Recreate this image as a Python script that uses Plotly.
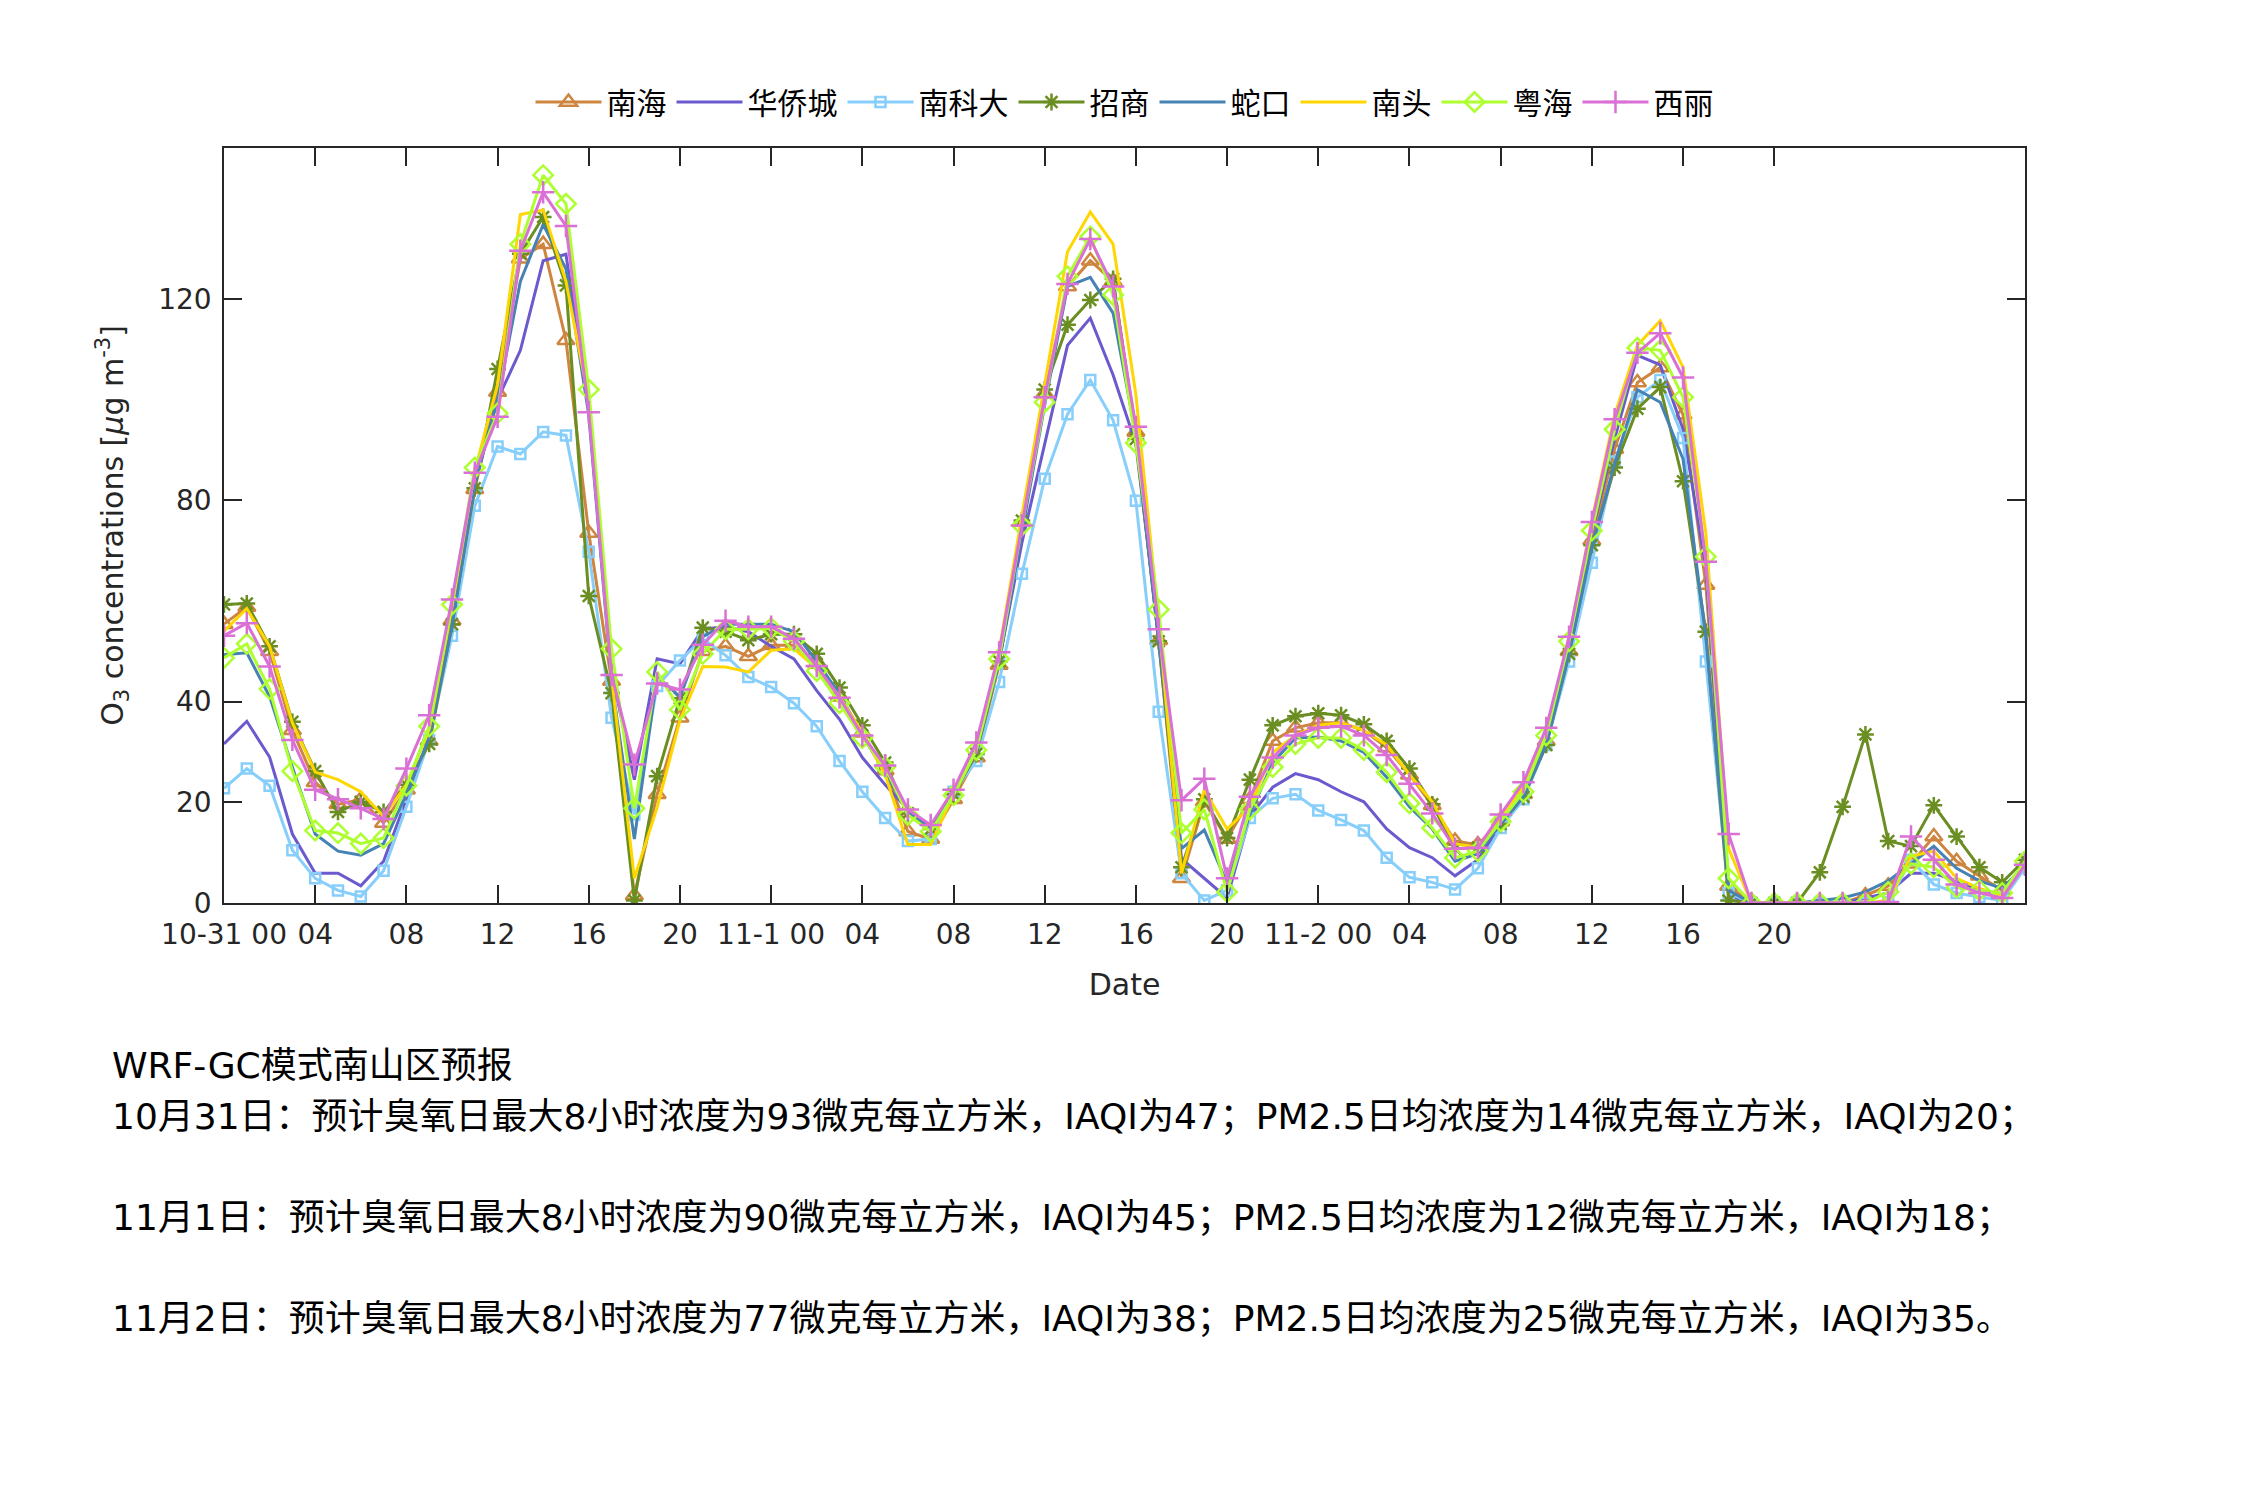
import plotly.graph_objects as go

# ---------------- data ----------------
hours = list(range(80))
x_tick_vals = list(range(0, 69, 4))
x_tick_text = ["10-31 00", "04", "08", "12", "16", "20",
               "11-1 00", "04", "08", "12", "16", "20",
               "11-2 00", "04", "08", "12", "16", "20"]
y_tick_vals = [0, 20, 40, 80, 120]

nanhai = [55.4, 58.8, 50, 34.3, 24, 19.6, 20.6, 15.9, 22.5, 32.2, 56.1, 82.2, 101.5, 128, 130.9, 111.8, 73.5, 44.1, 1.5, 21.6,
          36.8, 50, 51, 49, 51.2, 51.2, 47.5, 41, 33.8, 26.3, 14.2, 12.7, 20.6, 28.9, 47.3, 75.7, 101.2, 122.5, 127.6, 123.5,
          93.6, 52.2, 4.9, 20.1, 12.7, 20.6, 32.2, 34.8, 35.8, 35.8, 34.3, 30.9, 25.5, 19.4, 12.3, 11.6, 16.2, 21.6, 32.2, 50,
          72, 90.2, 103.4, 106.4, 97, 63.2, 3.4, 0, 0, 0, 0, 0, 1.5, 3.4, 7.8, 13.2, 8.3, 5.4, 2.5, 7.8]
huaqiaocheng = [31.6, 36.1, 29, 13.7, 5.9, 5.9, 3.4, 8.3, 20.6, 32.8, 55.4, 83.3, 100, 109.8, 127.6, 128.9, 98, 46, 24.5, 48.5,
                47.5, 54.4, 54.9, 53.9, 51, 48.5, 42.2, 36.5, 28.9, 23.5, 18.6, 15.2, 22.1, 30.4, 48, 71.6, 91.2, 110.8, 116.2, 104.9,
                91.2, 53, 8.8, 4.9, 1, 17.2, 23, 25.7, 24.5, 22.1, 20.1, 14.7, 11, 9, 5.4, 8.6, 15.5, 21.5, 32.5, 51,
                73.5, 92.2, 108.8, 106.9, 94.1, 66.7, 1.5, 0, 0, 0, 0, 0, 1, 2, 5.9, 5.9, 4.4, 2.5, 1.5, 7.8]
nankeda = [22.8, 26.7, 23.3, 10.5, 4.9, 2.5, 1.3, 6.4, 19.1, 32.4, 53.1, 78.9, 90.7, 89.2, 93.6, 92.9, 69.8, 36.8, 17.6, 43.1,
           48.2, 52.5, 49.2, 44.9, 42.9, 39.7, 35.1, 28.2, 22.1, 16.9, 12.3, 12.7, 22.1, 28.2, 43.9, 65.4, 84.3, 97.1, 103.9, 95.9,
           79.9, 38, 5.9, 0.5, 2.5, 16.9, 20.8, 21.6, 18.4, 16.5, 14.4, 9, 5.1, 4.1, 2.7, 6.9, 14.9, 20.6, 31.4, 48,
           67.6, 87.7, 100.5, 103.9, 92.4, 48, 2, 0, 0, 0, 0, 0, 0, 0.2, 8.6, 3.7, 2, 1.2, 0.5, 6.9]
zhaoshang = [59.3, 59.5, 51, 36, 26.2, 18.1, 20.1, 18.1, 23.5, 31.6, 55.4, 82.4, 106.1, 129, 136.3, 122.7, 61, 41.7, 0.5, 25.2,
             40.7, 54.7, 53.9, 52.2, 53.4, 53.4, 49.5, 42.8, 35.3, 27.9, 17.8, 14.7, 21.6, 29.6, 48, 76, 102, 114.9, 119.8, 124,
             92.2, 52, 7.1, 20.6, 12.9, 24.5, 35.3, 37.1, 37.7, 37.3, 35.5, 32.2, 26.7, 19.6, 10.8, 11, 15.7, 21.1, 31.4, 49.5,
             71.1, 86.5, 98.2, 102.5, 83.8, 53.9, 0.5, 0, 0, 0, 6.1, 19.1, 33.5, 12.3, 11.3, 19.4, 13.2, 7.1, 4.1, 8.6]
shekou = [49.3, 49.7, 41, 27, 13.7, 10.3, 9.5, 11.8, 21.6, 32.8, 54.9, 83.3, 100, 123.5, 134.8, 126, 97, 44, 12.7, 45,
          41, 52.9, 55.4, 55.4, 55.4, 53.9, 48, 41.5, 33.3, 26, 18.1, 14.7, 21.6, 30, 48, 73.5, 99, 122.5, 124.3, 117.2,
          93, 52, 10.8, 14.5, 3.9, 17.6, 27.9, 32.8, 33, 32.2, 29.9, 25, 19.1, 14.7, 8.3, 9.8, 15.7, 21.1, 31.4, 49.5,
          70.6, 87.3, 102, 99.5, 88.2, 52.9, 2.5, 0, 0, 0, 0.5, 1, 2.2, 4.4, 7.8, 11.3, 6.9, 4.4, 2.9, 7.4]
nantou = [54, 58.5, 51, 35.8, 26, 24.5, 22.1, 17.2, 23.5, 34.5, 58.8, 85.8, 103, 136.8, 137.7, 123.5, 100, 45, 4.9, 19,
          36.3, 47, 46.9, 45.9, 50.2, 50.5, 46.6, 41, 33.8, 25.5, 11.6, 11.6, 21.6, 30.4, 50, 77, 103, 129.4, 137.3, 130.9,
          101, 56, 5.9, 22.5, 14.7, 19.1, 29.9, 33.3, 35.3, 35.8, 34.3, 31.4, 25.5, 20.1, 11.8, 11, 17.2, 23, 34, 52.9,
          76, 97, 110.8, 115.7, 106.4, 73.5, 10.8, 0, 0, 0, 0, 0, 0, 0.5, 9.3, 10.3, 4.9, 2.9, 1.5, 7.8]
yuehai = [48.7, 51.5, 42.5, 26.2, 14.4, 13.9, 11.8, 12.9, 23.3, 35.1, 59.3, 86.5, 97.3, 130.9, 144.6, 138.9, 102, 50.5, 18.8, 45.9,
          38.4, 49.5, 54.4, 54.4, 54.6, 52, 46.1, 39.7, 32.8, 27, 17.5, 14.2, 21.4, 30.4, 48.5, 75, 99.5, 124.5, 132.4, 120.8,
          91.4, 58.3, 13.9, 18.6, 2.2, 18.6, 27, 31.6, 32.8, 32.8, 30.4, 26, 19.8, 14.9, 9, 10.3, 16.2, 22.1, 33.3, 52,
          74, 94.1, 110.3, 109.8, 100.5, 68.8, 4.9, 0, 0, 0, 0, 0, 0, 2.2, 7.8, 7.1, 3.1, 2.5, 2, 8.3]
xili = [53.1, 55.6, 47, 32.4, 22.5, 20.6, 18.8, 16.7, 26.7, 37.3, 60.3, 85.5, 96.6, 129.6, 141.2, 134.5, 97.5, 45.3, 27.5, 43.6,
        42.4, 51.3, 56.1, 54.9, 54.9, 52.5, 47.1, 40.8, 33.3, 27.3, 18.6, 15.5, 22.5, 31.9, 49.8, 75, 100.5, 123, 131.9, 122.5,
        94.6, 54.4, 20.4, 24.7, 4.9, 21.1, 28.9, 33.3, 34.8, 35.1, 33.3, 29.4, 23.7, 17.8, 10.8, 11, 17.6, 24, 34.8, 52.9,
        75.7, 96.1, 109.3, 113.2, 104.4, 67.8, 13.7, 0, 0, 0, 0, 0, 0, 0.2, 13.2, 8.6, 3.7, 2, 1, 7.6]

series_names = ["南海", "华侨城", "南科大", "招商", "蛇口", "南头", "粤海", "西丽"]
series_values = [nanhai, huaqiaocheng, nankeda, zhaoshang, shekou, nantou, yuehai, xili]

forecast_title = "WRF-GC模式南山区预报"
forecast_lines = [
    "10月31日：预计臭氧日最大8小时浓度为93微克每立方米，IAQI为47；PM2.5日均浓度为14微克每立方米，IAQI为20；",
    "11月1日：预计臭氧日最大8小时浓度为90微克每立方米，IAQI为45；PM2.5日均浓度为12微克每立方米，IAQI为18；",
    "11月2日：预计臭氧日最大8小时浓度为77微克每立方米，IAQI为38；PM2.5日均浓度为25微克每立方米，IAQI为35。",
]

# ---------------- styles ----------------
colors = ["#CD853F", "#6A5ACD", "#87CEFA", "#6B8E23", "#4682B4", "#FFD700", "#ADFF2F", "#DA70D6"]
symbols = ["triangle-up-open", None, "square-open", "asterisk-open", None, None, "diamond-open", "cross-thin-open"]
msizes = [15, 0, 10, 14, 0, 0, 15, 16]

W, H = 2250, 1500
L, R, T, B = 224, 2025, 148, 903
FONT = "DejaVu Sans, Noto Sans CJK SC, sans-serif"
TXT = "#262626"

fig = go.Figure()
for name, vals, c, s, ms in zip(series_names, series_values, colors, symbols, msizes):
    if s is None:
        fig.add_trace(go.Scatter(x=hours, y=vals, name=name, mode="lines",
                                 line=dict(color=c, width=3)))
    else:
        fig.add_trace(go.Scatter(x=hours, y=vals, name=name, mode="lines+markers",
                                 line=dict(color=c, width=3),
                                 marker=dict(symbol=s, size=ms, color=c,
                                             line=dict(color=c, width=2.5))))

def px_to_paper_y(py):
    return (B - py) / (B - T)

def px_to_paper_x(px):
    return (px - L) / (R - L)

annotations = []
text_rows = [forecast_title] + forecast_lines
text_ys = [1065, 1116, 1217, 1318]
for txt, py in zip(text_rows, text_ys):
    annotations.append(dict(text=txt, xref="paper", yref="paper",
                            x=px_to_paper_x(110), y=px_to_paper_y(py),
                            xanchor="left", yanchor="middle", showarrow=False,
                            font=dict(family=FONT, size=36, color="#000000")))

fig.update_layout(
    width=W, height=H,
    paper_bgcolor="white", plot_bgcolor="white",
    margin=dict(l=L, r=W - R, t=T, b=H - B),
    font=dict(family=FONT, size=28, color=TXT),
    showlegend=True,
    legend=dict(orientation="h", x=0.5, xanchor="center",
                y=px_to_paper_y(102), yanchor="middle",
                font=dict(family=FONT, size=30, color="#000000"),
                itemwidth=66, tracegroupgap=0, bgcolor="rgba(0,0,0,0)"),
    annotations=annotations,
)
fig.update_xaxes(range=[0, 79], tickvals=x_tick_vals, ticktext=x_tick_text,
                 ticks="inside", ticklen=18, tickwidth=1.5, tickcolor=TXT,
                 showline=True, linecolor=TXT, linewidth=1.5, mirror="ticks",
                 showgrid=False, zeroline=False, ticklabelstandoff=6,
                 tickfont=dict(family=FONT, size=28, color=TXT),
                 title=dict(text="Date", font=dict(family=FONT, size=30, color=TXT), standoff=24))
fig.update_yaxes(range=[0, 150], tickvals=y_tick_vals,
                 ticks="inside", ticklen=18, tickwidth=1.5, tickcolor=TXT,
                 showline=True, linecolor=TXT, linewidth=1.5, mirror="ticks",
                 showgrid=False, zeroline=False, ticklabelstandoff=5,
                 tickfont=dict(family=FONT, size=28, color=TXT),
                 title=dict(text="O<sub>3</sub> concentrations [<i>μ</i>g m<sup>-3</sup>]",
                            font=dict(family=FONT, size=30, color=TXT), standoff=26))

fig.write_html("out.html")
